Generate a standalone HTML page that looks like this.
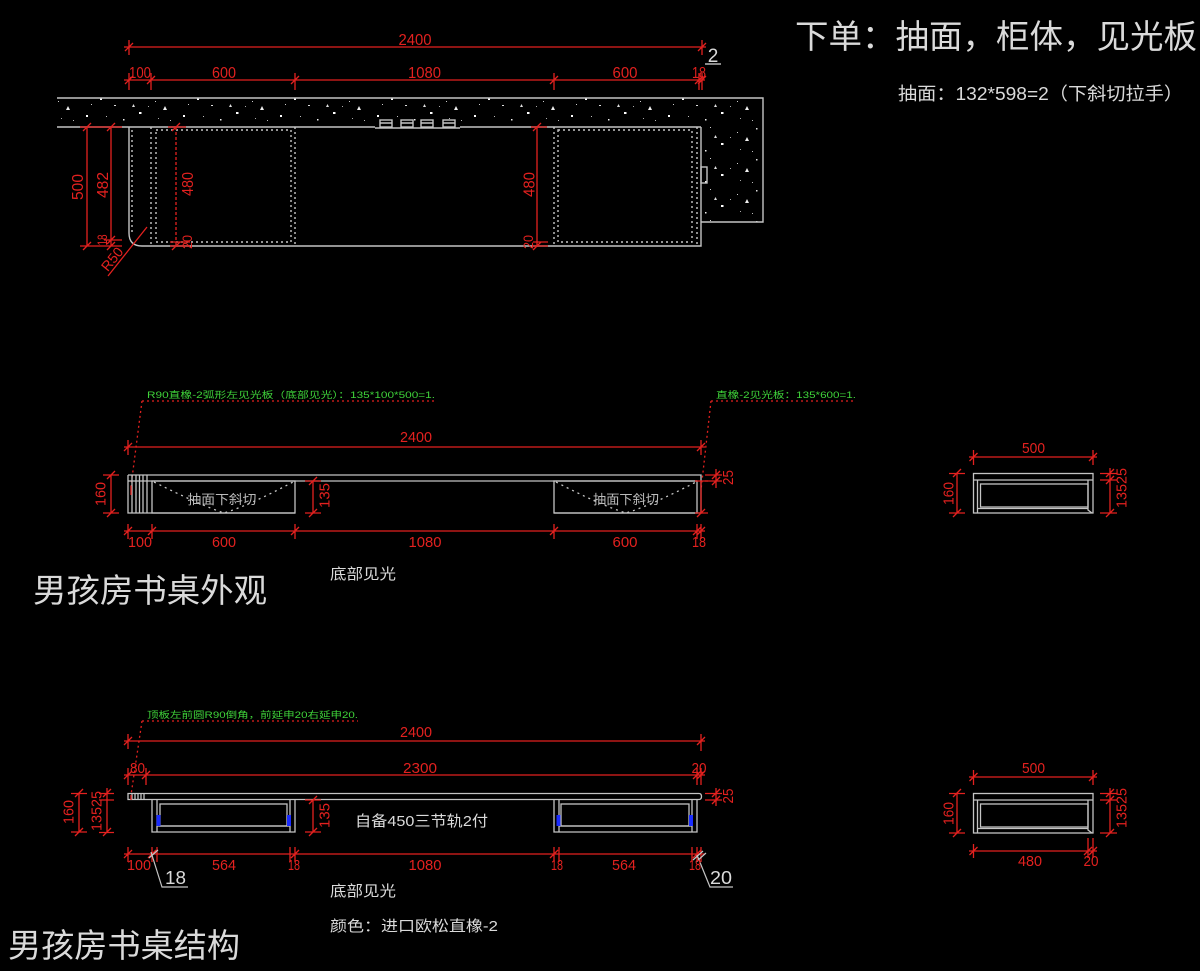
<!DOCTYPE html>
<html><head><meta charset="utf-8"><style>
html,body{margin:0;padding:0;background:#000;}
svg{display:block;}
.r{fill:#e3211f;font-family:"Liberation Sans",sans-serif;font-size:15px;}
.w{fill:#dadada;font-family:"Liberation Sans","Noto Sans CJK SC",sans-serif;}
.g{fill:#3fd43a;font-family:"Liberation Sans","Noto Sans CJK SC",sans-serif;font-size:9px;}
</style></head><body>
<svg width="1200" height="971" viewBox="0 0 1200 971" xmlns="http://www.w3.org/2000/svg">
<defs>
<pattern id="sp" width="97" height="31" patternUnits="userSpaceOnUse">
<rect x="3" y="5" width="2" height="2" fill="#fff"/>
<rect x="17" y="12" width="2" height="1" fill="#ddd"/>
<rect x="31" y="3" width="1" height="1" fill="#ccc"/>
<rect x="42" y="19" width="2.5" height="2" fill="#fff"/>
<rect x="9" y="23" width="1" height="1" fill="#bbb"/>
<rect x="26" y="26" width="1.5" height="1.5" fill="#eee"/>
<rect x="58" y="8" width="1" height="1" fill="#ccc"/>
<rect x="51" y="13" width="1" height="1" fill="#aaa"/>
<polygon points="66,17 70,17 68,13" fill="#eee"/>
<rect x="77" y="4" width="1.5" height="1.5" fill="#ddd"/>
<rect x="86" y="22" width="2" height="2" fill="#fff"/>
<rect x="73" y="27" width="1" height="1" fill="#bbb"/>
<rect x="91" y="11" width="1" height="1" fill="#ccc"/>
<polygon points="35,14 38,14 36.5,11" fill="#ddd"/>
<rect x="61" y="25" width="1" height="1" fill="#aaa"/>
</pattern>
</defs>
<rect width="1200" height="971" fill="#000"/>

<!-- ===== TOP PLAN ===== -->
<polygon points="57,98 763,98 763,222 701,222 701,127 57,127" fill="url(#sp)"/>
<g fill="none" stroke="#c4c4c4" stroke-width="1.4">
<path d="M57,98H763V222H701 M57,127H375 M375,128H460 M460,127H701"/>
<path d="M129,127V233Q129,246 142,246H701V127"/>
<rect x="380" y="120" width="12" height="7"/><rect x="401" y="120" width="12" height="7"/><rect x="421" y="120" width="12" height="7"/><rect x="443" y="120" width="12" height="7"/>
<path d="M380,123H392M401,123H413M421,123H433M443,123H455"/>
<rect x="701" y="167" width="6" height="16"/>
<path d="M705,64H721"/>
</g>
<g fill="none" stroke="#c8c8c8" stroke-width="1.4" stroke-dasharray="2,3">
<path d="M132,130V232 M151,127V246 M295,127V246 M554,127V246 M697,127V246"/>
<rect x="156" y="130" width="135" height="112"/>
<rect x="558" y="130" width="134" height="112"/>
</g>
<g fill="none" stroke="#e3211f" stroke-width="1.3">
<path d="M124,47H706 M129,40V55M125,51L133,43 M702,40V55M698,51L706,43"/>
<path d="M124,80H705 M129,73V90M125,84L133,76 M151,73V90M147,84L155,76 M295,73V90M291,84L299,76 M554,73V90M550,84L558,76 M699,73V90M695,84L703,76 M702,73V90M698,84L706,76"/>
<path d="M80,127H122 M80,246H122 M104,240H122 M87,127V246 M111,127V246 M83,131L91,123 M83,250L91,242 M107,131L115,123 M107,250L115,242 M107,244L115,236"/>
<path d="M168,127H186 M170,242H190 M170,246H190 M172,131L180,123 M172,250L180,242"/>
<path d="M176,127V246" stroke-dasharray="3,2"/>
<path d="M537,127V246 M531,127H547 M533,242H548 M533,246H548 M533,131L541,123 M533,250L541,242"/>
<path d="M108,276L147,227"/>
</g>
<g class="r">
<text x="415" y="45" text-anchor="middle" font-size="16" textLength="33" lengthAdjust="spacingAndGlyphs">2400</text>
<text x="140" y="78" text-anchor="middle" font-size="16" textLength="22" lengthAdjust="spacingAndGlyphs">100</text>
<text x="224" y="78" text-anchor="middle" font-size="16" textLength="24" lengthAdjust="spacingAndGlyphs">600</text>
<text x="424.5" y="78" text-anchor="middle" font-size="16" textLength="33" lengthAdjust="spacingAndGlyphs">1080</text>
<text x="625" y="78" text-anchor="middle" font-size="16" textLength="25" lengthAdjust="spacingAndGlyphs">600</text>
<text x="699" y="78" text-anchor="middle" font-size="16" textLength="14" lengthAdjust="spacingAndGlyphs">18</text>
<text transform="translate(77.5,187) rotate(-90)" dy="5.5" text-anchor="middle" font-size="16" textLength="26" lengthAdjust="spacingAndGlyphs">500</text>
<text transform="translate(102.5,185) rotate(-90)" dy="5.5" text-anchor="middle" font-size="16" textLength="26" lengthAdjust="spacingAndGlyphs">482</text>
<text transform="translate(102,240) rotate(-90)" dy="5" text-anchor="middle" font-size="14" textLength="11" lengthAdjust="spacingAndGlyphs">18</text>
<text transform="translate(187.5,184) rotate(-90)" dy="5.5" text-anchor="middle" font-size="16" textLength="24" lengthAdjust="spacingAndGlyphs">480</text>
<text transform="translate(187,242) rotate(-90)" dy="5" text-anchor="middle" font-size="14" textLength="14" lengthAdjust="spacingAndGlyphs">20</text>
<text transform="translate(529,184.5) rotate(-90)" dy="5.5" text-anchor="middle" font-size="16" textLength="25" lengthAdjust="spacingAndGlyphs">480</text>
<text transform="translate(528,242) rotate(-90)" dy="5" text-anchor="middle" font-size="14" textLength="14" lengthAdjust="spacingAndGlyphs">20</text>
<text transform="translate(112,259) rotate(-51)" dy="5" text-anchor="middle" font-size="14" textLength="26" lengthAdjust="spacingAndGlyphs">R50</text>
</g>
<text class="w" x="713" y="62" text-anchor="middle" font-size="19">2</text>

<!-- top right notes -->
<text class="w" x="795" y="48" font-size="33" textLength="402" lengthAdjust="spacingAndGlyphs">下单：抽面，柜体，见光板</text>
<text class="w" x="898" y="100" font-size="18" textLength="285" lengthAdjust="spacingAndGlyphs">抽面：132*598=2（下斜切拉手）</text>

<!-- ===== MIDDLE ELEVATION ===== -->
<text class="g" x="147" y="398" textLength="288" lengthAdjust="spacingAndGlyphs">R90直橡-2弧形左见光板（底部见光）：135*100*500=1.</text>
<text class="g" x="716" y="398" textLength="140" lengthAdjust="spacingAndGlyphs">直橡-2见光板：135*600=1.</text>
<g fill="none" stroke="#e3211f" stroke-width="1.3" stroke-dasharray="2,3">
<path d="M142,401H436 M142,401L131,486"/>
<path d="M711,401H856 M711,401L701,490"/>
</g>
<g fill="none" stroke="#c4c4c4" stroke-width="1.3">
<path d="M128,475H701V513H554 M128,481H697 M128,475V513H295"/>
<path d="M132,475V513M136,475V513M139.5,475V513M143,475V513M147,475V513"/>
<rect x="152" y="481" width="143" height="32"/>
<rect x="554" y="481" width="143" height="32"/>
</g>
<g fill="none" stroke="#c8c8c8" stroke-width="1.3" stroke-dasharray="2,4">
<path d="M154,482Q200,505 224,513Q250,505 293,482"/>
<path d="M556,482Q600,505 626,513Q652,505 696,482"/>
</g>
<g class="w" font-size="13">
<text x="222" y="504" text-anchor="middle" textLength="69" lengthAdjust="spacingAndGlyphs" style="fill:#bbb">抽面下斜切</text>
<text x="626" y="504" text-anchor="middle" textLength="66" lengthAdjust="spacingAndGlyphs" style="fill:#bbb">抽面下斜切</text>
</g>
<g fill="none" stroke="#e3211f" stroke-width="1.3">
<path d="M124,447H705 M128,440V455M124,451L132,443 M701,440V455M697,451L705,443"/>
<path d="M124,531H705 M128,524V539M124,535L132,527 M152,524V539M148,535L156,527 M295,524V539M291,535L299,527 M554,524V539M550,535L558,527 M697,524V539M693,535L701,527 M701,524V539M697,535L705,527"/>
<path d="M111,475V513 M103,475H119 M103,513H119 M107,479L115,471 M107,517L115,509"/>
<path d="M313,481V513 M305,481H321 M305,513H321 M309,485L317,477 M309,517L317,509"/>
<path d="M701,481V513 M695,481H708 M695,513H708 M697,517L705,509"/>
<path d="M705,475H722 M705,481H722 M716,469V488 M712,479L720,471 M712,485L720,477"/>
<path d="M131,486V495"/>
</g>
<g class="r">
<text x="416" y="442" text-anchor="middle" textLength="32" lengthAdjust="spacingAndGlyphs">2400</text>
<text transform="translate(100,494) rotate(-90)" dy="5.3" text-anchor="middle" textLength="24" lengthAdjust="spacingAndGlyphs">160</text>
<text transform="translate(324,495.5) rotate(-90)" dy="5.3" text-anchor="middle" textLength="25" lengthAdjust="spacingAndGlyphs">135</text>
<text transform="translate(727.5,477.5) rotate(-90)" dy="5.3" text-anchor="middle" textLength="15" lengthAdjust="spacingAndGlyphs">25</text>
<text x="140" y="547" text-anchor="middle" textLength="24" lengthAdjust="spacingAndGlyphs">100</text>
<text x="224" y="547" text-anchor="middle" textLength="24" lengthAdjust="spacingAndGlyphs">600</text>
<text x="425" y="547" text-anchor="middle" textLength="33" lengthAdjust="spacingAndGlyphs">1080</text>
<text x="625" y="547" text-anchor="middle" textLength="25" lengthAdjust="spacingAndGlyphs">600</text>
<text x="699" y="547" text-anchor="middle" textLength="14" lengthAdjust="spacingAndGlyphs">18</text>
</g>
<text class="w" x="330" y="579" font-size="15" textLength="66" lengthAdjust="spacingAndGlyphs">底部见光</text>
<text class="w" x="33" y="602" font-size="33" textLength="234" lengthAdjust="spacingAndGlyphs">男孩房书桌外观</text>

<!-- ===== RIGHT SECTIONS ===== -->
<g id="sec">
<g fill="none" stroke="#c4c4c4" stroke-width="1.3">
<rect x="973.5" y="473.5" width="119.5" height="39.5"/>
<path d="M973.5,480H1093 M977.5,480V513 M1088,480V510L1092,513"/>
<rect x="980.5" y="484" width="107.5" height="23"/>
<path d="M977.5,508.5H1088"/>
</g>
<g fill="none" stroke="#e3211f" stroke-width="1.3">
<path d="M969,457H1097 M973.5,450V465M969.5,461L977.5,453 M1093,450V465M1089,461L1097,453"/>
<path d="M957,473V513 M949,473.5H965 M949,513H965 M953,477L961,469 M953,517L961,509"/>
<path d="M1110,468V513 M1100,473.5H1117 M1100,480H1117 M1100,513H1117 M1106,477L1114,469 M1106,517L1114,509 M1106,484L1114,476"/>
</g>
<g class="r">
<text x="1033.5" y="453" text-anchor="middle" textLength="23" lengthAdjust="spacingAndGlyphs">500</text>
<text transform="translate(948,493.5) rotate(-90)" dy="5.3" text-anchor="middle" textLength="23" lengthAdjust="spacingAndGlyphs">160</text>
<text transform="translate(1121,488) rotate(-90)" dy="5.3" text-anchor="middle" textLength="40" lengthAdjust="spacingAndGlyphs">13525</text>
</g>
</g>
<use href="#sec" transform="translate(0,320)"/>
<g fill="none" stroke="#e3211f" stroke-width="1.3">
<path d="M969,851H1097 M973.5,844V858M969.5,855L977.5,847 M1088,838V858M1084,855L1092,847 M1093,838V858M1089,855L1097,847"/>
</g>
<g class="r">
<text x="1030" y="866" text-anchor="middle" textLength="24" lengthAdjust="spacingAndGlyphs">480</text>
<text x="1091" y="866" text-anchor="middle" textLength="15" lengthAdjust="spacingAndGlyphs">20</text>
</g>

<!-- ===== BOTTOM STRUCTURE ===== -->
<text class="g" x="147" y="718" textLength="211" lengthAdjust="spacingAndGlyphs">顶板左前圆R90倒角，前延申20右延申20.</text>
<g fill="none" stroke="#e3211f" stroke-width="1.3" stroke-dasharray="2,3">
<path d="M142,721H358 M142,721L131,795"/>
</g>
<g fill="none" stroke="#c4c4c4" stroke-width="1.3">
<path d="M128,793.5H699Q701.5,793.5 701.5,796.5Q701.5,799.5 699,799.5H128Z"/>
<path d="M132,794V799M135,794V799M138,794V799M141,794V799M144,794V799"/>
<path d="M152,800V832H295V800 M157,800V832 M290,800V832"/>
<rect x="160" y="804" width="127" height="22"/>
<path d="M157,826H290"/>
<path d="M554,800V832H697V800 M559,800V832 M692,800V832"/>
<rect x="561" y="804" width="128" height="22"/>
<path d="M559,826H692"/>
</g>
<g fill="#1a2cff">
<rect x="156.5" y="815" width="4" height="11"/>
<rect x="287" y="815" width="4" height="11"/>
<rect x="556.5" y="815" width="4" height="11"/>
<rect x="689" y="815" width="4" height="11"/>
</g>
<g fill="none" stroke="#e3211f" stroke-width="1.3">
<path d="M124,741H705 M128,734V749M124,745L132,737 M701,734V751M697,745L705,737"/>
<path d="M124,775H705 M128,768V785M124,779L132,771 M146,768V785M142,779L150,771 M697,768V785M693,779L701,771 M701,768V785M697,779L705,771"/>
<path d="M131,795V800"/>
<path d="M124,854H705 M128,847V862M124,858L132,850 M152,847V862M148,858L156,850 M157,847V862 M290,847V862 M295,847V862M291,858L299,850 M554,847V862M550,858L558,850 M559,847V862 M692,847V862 M697,847V862M693,858L701,850 M701,847V862"/>
<path d="M79,793V832 M71,793.5H87 M71,832H87 M75,797L83,789 M75,836L83,828"/>
<path d="M107,788V833 M99,793.5H114 M99,800H114 M99,832.5H114 M103,797L111,789 M103,836L111,828"/>
<path d="M313,800V832 M305,800H321 M305,832H321 M309,804L317,796 M309,836L317,828"/>
<path d="M705,793.5H722 M705,800H722 M716,788V806 M712,797L720,789 M712,804L720,796"/>
</g>
<g fill="none" stroke="#c4c4c4" stroke-width="1.2">
<path d="M151,852L162,887H188 M149,858L158,850"/>
<path d="M697,855L710,887H733 M693,860L703,851 M696,862L706,853"/>
</g>
<g class="r">
<text x="416" y="737" text-anchor="middle" textLength="32" lengthAdjust="spacingAndGlyphs">2400</text>
<text x="137.5" y="773" text-anchor="middle" textLength="15" lengthAdjust="spacingAndGlyphs">80</text>
<text x="420" y="773" text-anchor="middle" textLength="34" lengthAdjust="spacingAndGlyphs">2300</text>
<text x="699" y="773" text-anchor="middle" textLength="15" lengthAdjust="spacingAndGlyphs">20</text>
<text transform="translate(68,812) rotate(-90)" dy="5.3" text-anchor="middle" textLength="24" lengthAdjust="spacingAndGlyphs">160</text>
<text transform="translate(96,811) rotate(-90)" dy="5.3" text-anchor="middle" textLength="40" lengthAdjust="spacingAndGlyphs">13525</text>
<text transform="translate(324,815.5) rotate(-90)" dy="5.3" text-anchor="middle" textLength="25" lengthAdjust="spacingAndGlyphs">135</text>
<text transform="translate(727.5,796) rotate(-90)" dy="5.3" text-anchor="middle" textLength="15" lengthAdjust="spacingAndGlyphs">25</text>
<text x="139" y="870" text-anchor="middle" textLength="24" lengthAdjust="spacingAndGlyphs">100</text>
<text x="224" y="870" text-anchor="middle" textLength="24" lengthAdjust="spacingAndGlyphs">564</text>
<text x="294" y="870" text-anchor="middle" textLength="12" lengthAdjust="spacingAndGlyphs">18</text>
<text x="425" y="870" text-anchor="middle" textLength="33" lengthAdjust="spacingAndGlyphs">1080</text>
<text x="557" y="870" text-anchor="middle" textLength="12" lengthAdjust="spacingAndGlyphs">18</text>
<text x="624" y="870" text-anchor="middle" textLength="24" lengthAdjust="spacingAndGlyphs">564</text>
<text x="695" y="870" text-anchor="middle" textLength="12" lengthAdjust="spacingAndGlyphs">18</text>
</g>
<text class="w" x="355" y="826" font-size="15" textLength="133" lengthAdjust="spacingAndGlyphs">自备450三节轨2付</text>
<text class="w" x="165" y="884" font-size="18" textLength="21" lengthAdjust="spacingAndGlyphs">18</text>
<text class="w" x="710" y="884" font-size="18" textLength="22" lengthAdjust="spacingAndGlyphs">20</text>
<text class="w" x="330" y="896" font-size="15" textLength="66" lengthAdjust="spacingAndGlyphs">底部见光</text>
<text class="w" x="330" y="931" font-size="15" textLength="168" lengthAdjust="spacingAndGlyphs">颜色：进口欧松直橡-2</text>
<text class="w" x="8" y="957" font-size="33" textLength="232" lengthAdjust="spacingAndGlyphs">男孩房书桌结构</text>
</svg>
</body></html>
